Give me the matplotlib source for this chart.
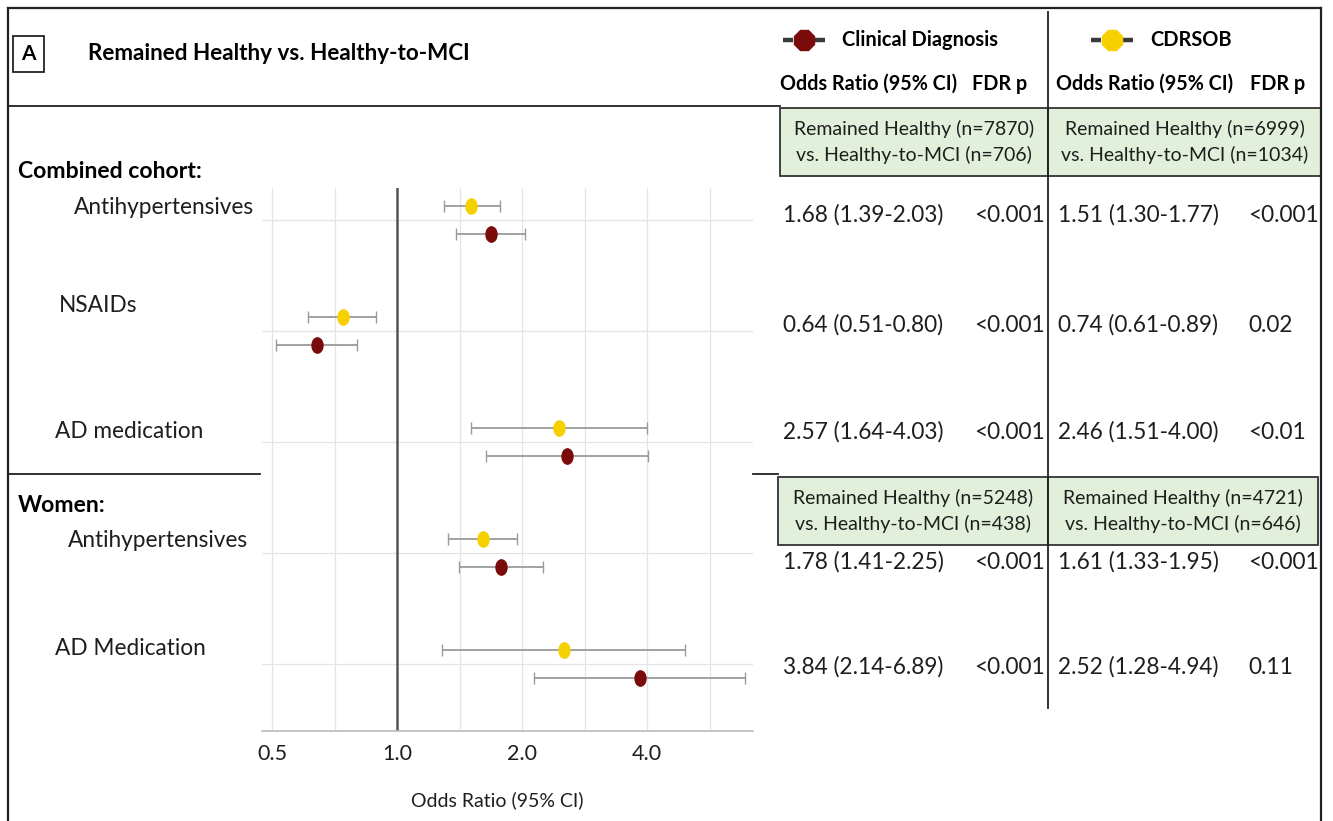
import matplotlib
matplotlib.use("Agg")
import matplotlib.pyplot as plt
from matplotlib.path import Path
from matplotlib.transforms import Affine2D
from matplotlib.patches import Rectangle
from matplotlib.lines import Line2D
import numpy as np

plt.rcParams['font.family'] = ['Lato', 'DejaVu Sans']

# ---------------- data ----------------
groups = ["Antihypertensives", "NSAIDs", "AD medication", "Antihypertensives", "AD Medication"]
cd_or = [1.68, 0.64, 2.57, 1.78, 3.84]
cd_lo = [1.39, 0.51, 1.64, 1.41, 2.14]
cd_hi = [2.03, 0.80, 4.03, 2.25, 6.89]
cd_p = ["<0.001", "<0.001", "<0.001", "<0.001", "<0.001"]
cdr_or = [1.51, 0.74, 2.46, 1.61, 2.52]
cdr_lo = [1.30, 0.61, 1.51, 1.33, 1.28]
cdr_hi = [1.77, 0.89, 4.00, 1.95, 4.94]
cdr_p = ["<0.001", "0.02", "<0.01", "<0.001", "0.11"]
box_cd = ["Remained Healthy (n=7870)\nvs. Healthy-to-MCI (n=706)",
          "Remained Healthy (n=5248)\nvs. Healthy-to-MCI (n=438)"]
box_cdr = ["Remained Healthy (n=6999)\nvs. Healthy-to-MCI (n=1034)",
           "Remained Healthy (n=4721)\nvs. Healthy-to-MCI (n=646)"]
xtick_vals = [0.5, 1.0, 2.0, 4.0]
xtick_labels = ["0.5", "1.0", "2.0", "4.0"]

RED = "#7b0a0a"
YEL = "#f7d000"
INK = "#1e1e1e"
W, H = 1333, 821

fig = plt.figure(figsize=(W / 100, H / 100), dpi=100)


def fx(x):
    return x / W


def fy(y):
    return 1 - y / H


def hline(y, x0, x1, lw=1.3, color="#222222"):
    fig.add_artist(Line2D([fx(x0), fx(x1)], [fy(y), fy(y)], lw=lw, color=color,
                          transform=fig.transFigure))


def vline(x, y0, y1, lw=1.3, color="#222222"):
    fig.add_artist(Line2D([fx(x), fx(x)], [fy(y0), fy(y1)], lw=lw, color=color,
                          transform=fig.transFigure))


# ---------------- forest plot axes ----------------
ax_l, ax_r, ax_t, ax_b = 262, 753, 188, 731
ax = fig.add_axes([fx(ax_l), fy(ax_b), (ax_r - ax_l) / W, (ax_b - ax_t) / H])
ax.set_xscale("log", base=2)
ax.set_xlim(2 ** (-135 / 125), 2 ** (356 / 125))
ax.set_ylim(4.6, -0.29)

ypos = np.arange(len(groups))
off = 0.126
ell = Path.unit_circle().transformed(Affine2D().scale(0.72, 1.0))

grid_x = [2 ** (k / 2) for k in range(-2, 6)]
for gx in grid_x:
    ax.axvline(gx, color="#e4e4e4", lw=0.9, zorder=0)
for gy in ypos:
    ax.axhline(gy, color="#e4e4e4", lw=0.9, zorder=0)
ax.axvline(1.0, color="#555555", lw=1.8, zorder=1)

cdr_err = [np.array(cdr_or) - np.array(cdr_lo), np.array(cdr_hi) - np.array(cdr_or)]
cd_err = [np.array(cd_or) - np.array(cd_lo), np.array(cd_hi) - np.array(cd_or)]
ax.errorbar(cdr_or, ypos - off, xerr=cdr_err, fmt="none", ecolor="#9a9a9a",
            elinewidth=1.3, capsize=4, capthick=1.0, zorder=2)
ax.errorbar(cd_or, ypos + off, xerr=cd_err, fmt="none", ecolor="#9a9a9a",
            elinewidth=1.3, capsize=4, capthick=1.0, zorder=2)
ax.plot(cdr_or, ypos - off, ls="none", marker=ell, ms=11, color=YEL, zorder=3)
ax.plot(cd_or, ypos + off, ls="none", marker=ell, ms=11, color=RED, zorder=3)

for s in ["top", "right", "left"]:
    ax.spines[s].set_visible(False)
ax.spines["bottom"].set_color("#bbbbbb")
ax.spines["bottom"].set_linewidth(1.2)
ax.set_yticks([])
ax.set_xticks(xtick_vals)
ax.set_xticklabels(xtick_labels, fontsize=15.5, color=INK)
ax.xaxis.set_minor_locator(matplotlib.ticker.NullLocator())
ax.tick_params(axis="x", length=0, pad=9)
ax.set_xlabel("Odds Ratio (95% CI)", fontsize=14, color=INK)
ax.xaxis.set_label_coords((497 - ax_l) / (ax_r - ax_l), -(800 - ax_b) / (ax_b - ax_t))
ax.xaxis.label.set_va("center")

# ---------------- frame & separators ----------------
vline(8, 8, 830, lw=1.6)
hline(8, 8, 1321, lw=1.6)
vline(1321, 8, 830, lw=1.6)
hline(106, 8, 780)
hline(474, 8, 260)
hline(474, 753, 778)

# panel label + title
fig.add_artist(Rectangle((fx(13), fy(72)), (44 - 13) / W, (72 - 36) / H, fill=False,
                         lw=1.3, ec="#222222", transform=fig.transFigure))
fig.text(fx(28.5), fy(54), "A", ha="center", va="center", fontsize=15, fontweight="bold")
fig.text(fx(88), fy(54), "Remained Healthy vs. Healthy-to-MCI", ha="left", va="center",
         fontsize=16.2, fontweight="bold")


# legend entries
def legend_entry(x, color, label):
    for a, b in ((x, x + 10), (x + 32, x + 42)):
        fig.add_artist(Line2D([fx(a), fx(b)], [fy(40), fy(40)], lw=3.2, color="#3a3a3a",
                              solid_capstyle="butt", transform=fig.transFigure))
    fig.add_artist(Line2D([fx(x + 21)], [fy(40)], marker="8", ms=15, color=color,
                          ls="none", transform=fig.transFigure))
    fig.text(fx(x + 59), fy(40), label, ha="left", va="center", fontsize=14.4,
             fontweight="bold")


legend_entry(783, RED, "Clinical Diagnosis")
legend_entry(1091, YEL, "CDRSOB")

for x0 in (780, 1056):
    fig.text(fx(x0), fy(84), "Odds Ratio (95% CI)", ha="left", va="center", fontsize=14.2,
             fontweight="bold")
fig.text(fx(972), fy(84), "FDR p", ha="left", va="center", fontsize=14.2, fontweight="bold")
fig.text(fx(1250), fy(84), "FDR p", ha="left", va="center", fontsize=14.2, fontweight="bold")

# green boxes
GREEN = "#e2efda"
box_rows = [(108, 176, 780, 1048, 1321), (477, 545, 778, 1048, 1318)]
for i, (y0, y1, xa, xm, xb) in enumerate(box_rows):
    for (l, r), txt in zip([(xa, xm), (xm, xb)], [box_cd[i], box_cdr[i]]):
        fig.add_artist(Rectangle((fx(l), fy(y1)), (r - l) / W, (y1 - y0) / H, fc=GREEN,
                                 ec="#333333", lw=1.3, transform=fig.transFigure))
        fig.text(fx((l + r) / 2), fy((y0 + y1) / 2), txt, ha="center", va="center",
                 fontsize=14, linespacing=1.55, color=INK)
vline(1048, 12, 708)

# section labels & group labels
fig.text(fx(18), fy(172), "Combined cohort:", ha="left", va="center", fontsize=16.6,
         fontweight="bold")
fig.text(fx(18), fy(505), "Women:", ha="left", va="center", fontsize=16.6, fontweight="bold")
label_pos = [(74, 207), (59, 305), (55, 431), (68, 540), (55, 648)]
for (lx, ly), g in zip(label_pos, groups):
    fig.text(fx(lx), fy(ly), g, ha="left", va="center", fontsize=16.3, color=INK)

# table values
row_y = [215, 325, 432, 562, 667]
for i, ry in enumerate(row_y):
    fig.text(fx(783), fy(ry), f"{cd_or[i]:.2f} ({cd_lo[i]:.2f}-{cd_hi[i]:.2f})",
             ha="left", va="center", fontsize=16.3, color=INK)
    fig.text(fx(1045), fy(ry), cd_p[i], ha="right", va="center", fontsize=16.3, color=INK)
    fig.text(fx(1058), fy(ry), f"{cdr_or[i]:.2f} ({cdr_lo[i]:.2f}-{cdr_hi[i]:.2f})",
             ha="left", va="center", fontsize=16.3, color=INK)
    fig.text(fx(1248), fy(ry), cdr_p[i], ha="left", va="center", fontsize=16.3, color=INK)

fig.savefig("out.png", dpi=100)
